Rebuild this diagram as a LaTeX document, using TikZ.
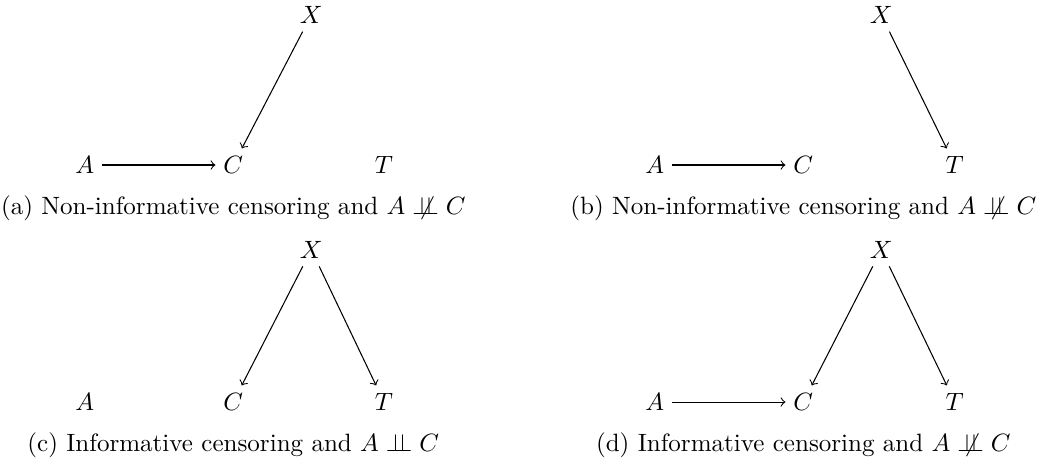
\documentclass[tikz,border=0pt]{standalone}
\usepackage{amsmath}
\usepackage{tikz}
\usetikzlibrary{positioning}

\newcommand{\indep}{\perp\!\!\!\perp}
\newcommand{\nindep}{\mathrel{\mkern4mu\not\mkern-4mu\perp\!\!\!\perp}}

\begin{document}
\begin{tikzpicture}[
  every node/.style={scale=0.95},
  var/.style={inner sep=3pt},
  arr/.style={->},
  captext/.style={align=center}
]
\useasboundingbox (0,0) rectangle (13.853,-6.213);

%--------------------------------------------------
% (a) non-informative, A -> C
%--------------------------------------------------
\begin{scope}[shift={(1.13,-2.2)}]
\node[var] (xa) at (3.02,2) {$X$};
\node[var] (aa) at (0,0) {$A$};
\node[var] (ca) at (1.98,0) {$C$};
\node[var] (ta) at (3.99,0) {$T$};
\draw[arr] (aa) -- (ca);
\draw[arr] (xa) -- (ca);
\end{scope}
\node[captext] (capa) at (3.11,-2.77) {(a) Non-informative censoring and $A \nindep C$};

%--------------------------------------------------
% (b) non-informative, X -> T
%--------------------------------------------------
\begin{scope}[shift={(8.73,-2.2)}]
\node[var] (xb) at (3.02,2) {$X$};
\node[var] (ab) at (0,0) {$A$};
\node[var] (cb) at (1.98,0) {$C$};
\node[var] (tb) at (4.0,0) {$T$};
\draw[arr] (ab) -- (cb);
\draw[arr] (xb) -- (tb);
\end{scope}
\node[captext] (capb) at (10.71,-2.77) {(b) Non-informative censoring and $A \nindep C$};

%--------------------------------------------------
% (c) informative, A independent of C
%--------------------------------------------------
\begin{scope}[shift={(1.13,-5.36)}]
\node[var] (xc) at (3.02,2.03) {$X$};
\node[var] (ac) at (0,0) {$A$};
\node[var] (cc) at (1.98,0) {$C$};
\node[var] (tc) at (3.99,0) {$T$};
\draw[arr] (xc) -- (cc);
\draw[arr] (xc) -- (tc);
\end{scope}
\node[captext] (capc) at (3.11,-5.93) {(c) Informative censoring and $A \indep C$};

%--------------------------------------------------
% (d) informative, A -> C
%--------------------------------------------------
\begin{scope}[shift={(8.73,-5.36)}]
\node[var] (xd) at (3.02,2.03) {$X$};
\node[var] (ad) at (0,0) {$A$};
\node[var] (cd) at (1.98,0) {$C$};
\node[var] (td) at (4.0,0) {$T$};
\draw[arr] (ad) -- (cd);
\draw[arr] (xd) -- (cd);
\draw[arr] (xd) -- (td);
\end{scope}
\node[captext] (capd) at (10.71,-5.93) {(d) Informative censoring and $A \nindep C$};

\end{tikzpicture}
\end{document}
